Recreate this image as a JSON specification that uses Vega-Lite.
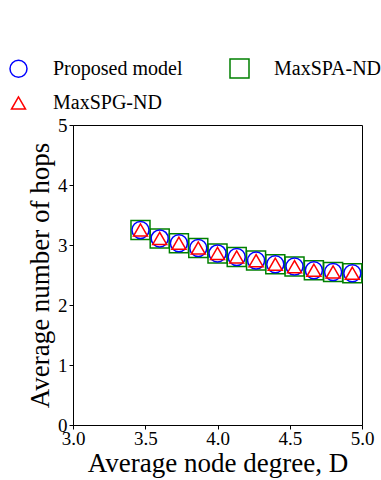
{
  "$schema": "https://vega.github.io/schema/vega-lite/v6.json",
  "autosize": "none",
  "width": 289,
  "height": 300,
  "padding": {"left": 73, "top": 125, "right": 19, "bottom": 55},
  "background": "white",
  "config": {
    "font": "Liberation Serif, Times New Roman, serif",
    "view": {"stroke": "black", "strokeWidth": 1},
    "axis": {
      "grid": false,
      "domainColor": "black",
      "tickColor": "black",
      "labelColor": "black",
      "titleColor": "black",
      "labelFont": "Liberation Serif, Times New Roman, serif",
      "titleFont": "Liberation Serif, Times New Roman, serif",
      "labelFontSize": 19,
      "titleFontSize": 27,
      "titleFontWeight": "normal",
      "tickSize": 4,
      "labelFlush": false,
      "labelOverlap": false
    },
    "legend": {
      "labelFont": "Liberation Serif, Times New Roman, serif",
      "labelFontSize": 20,
      "labelColor": "black"
    }
  },
  "data": {
    "values": [
      {"model": "MaxSPA-ND", "D": 3.467, "hops": 3.25},
      {"model": "MaxSPA-ND", "D": 3.6, "hops": 3.11},
      {"model": "MaxSPA-ND", "D": 3.733, "hops": 3.03},
      {"model": "MaxSPA-ND", "D": 3.867, "hops": 2.95},
      {"model": "MaxSPA-ND", "D": 4.0, "hops": 2.86},
      {"model": "MaxSPA-ND", "D": 4.133, "hops": 2.8},
      {"model": "MaxSPA-ND", "D": 4.267, "hops": 2.74},
      {"model": "MaxSPA-ND", "D": 4.4, "hops": 2.68},
      {"model": "MaxSPA-ND", "D": 4.533, "hops": 2.64},
      {"model": "MaxSPA-ND", "D": 4.667, "hops": 2.58},
      {"model": "MaxSPA-ND", "D": 4.8, "hops": 2.55},
      {"model": "MaxSPA-ND", "D": 4.933, "hops": 2.53},
      {"model": "Proposed model", "D": 3.467, "hops": 3.25},
      {"model": "Proposed model", "D": 3.6, "hops": 3.11},
      {"model": "Proposed model", "D": 3.733, "hops": 3.03},
      {"model": "Proposed model", "D": 3.867, "hops": 2.95},
      {"model": "Proposed model", "D": 4.0, "hops": 2.86},
      {"model": "Proposed model", "D": 4.133, "hops": 2.8},
      {"model": "Proposed model", "D": 4.267, "hops": 2.74},
      {"model": "Proposed model", "D": 4.4, "hops": 2.68},
      {"model": "Proposed model", "D": 4.533, "hops": 2.64},
      {"model": "Proposed model", "D": 4.667, "hops": 2.58},
      {"model": "Proposed model", "D": 4.8, "hops": 2.55},
      {"model": "Proposed model", "D": 4.933, "hops": 2.53},
      {"model": "MaxSPG-ND", "D": 3.467, "hops": 3.25},
      {"model": "MaxSPG-ND", "D": 3.6, "hops": 3.11},
      {"model": "MaxSPG-ND", "D": 3.733, "hops": 3.03},
      {"model": "MaxSPG-ND", "D": 3.867, "hops": 2.95},
      {"model": "MaxSPG-ND", "D": 4.0, "hops": 2.86},
      {"model": "MaxSPG-ND", "D": 4.133, "hops": 2.8},
      {"model": "MaxSPG-ND", "D": 4.267, "hops": 2.74},
      {"model": "MaxSPG-ND", "D": 4.4, "hops": 2.68},
      {"model": "MaxSPG-ND", "D": 4.533, "hops": 2.64},
      {"model": "MaxSPG-ND", "D": 4.667, "hops": 2.58},
      {"model": "MaxSPG-ND", "D": 4.8, "hops": 2.55},
      {"model": "MaxSPG-ND", "D": 4.933, "hops": 2.53}
    ]
  },
  "mark": {"type": "point", "filled": false, "strokeWidth": 1.5, "opacity": 1},
  "encoding": {
    "x": {
      "field": "D", "type": "quantitative",
      "scale": {"domain": [3, 5], "nice": false, "zero": false},
      "axis": {"values": [3, 3.5, 4, 4.5, 5], "format": ".1f", "title": "Average node degree, D", "labelPadding": 0, "titlePadding": 2}
    },
    "y": {
      "field": "hops", "type": "quantitative",
      "scale": {"domain": [0, 5], "nice": false},
      "axis": {"values": [0, 1, 2, 3, 4, 5], "format": "d", "title": "Average number of hops", "labelPadding": 2, "titlePadding": 3}
    },
    "color": {
      "field": "model", "type": "nominal",
      "scale": {"domain": ["Proposed model", "MaxSPG-ND", "MaxSPA-ND"], "range": ["#0000ff", "#ff0000", "#008000"]},
      "legend": {
        "title": null, "orient": "none", "legendX": -65, "legendY": -67,
        "columns": 2, "columnPadding": 44, "rowPadding": 12, "padding": 0,
        "labelOffset": 24, "symbolStrokeWidth": 1.5
      }
    },
    "shape": {
      "field": "model", "type": "nominal",
      "scale": {"domain": ["Proposed model", "MaxSPG-ND", "MaxSPA-ND"], "range": ["circle", "triangle-up", "square"]}
    },
    "size": {
      "field": "model", "type": "nominal",
      "scale": {"type": "ordinal", "domain": ["Proposed model", "MaxSPG-ND", "MaxSPA-ND"], "range": [289, 196, 361]}
    }
  }
}
